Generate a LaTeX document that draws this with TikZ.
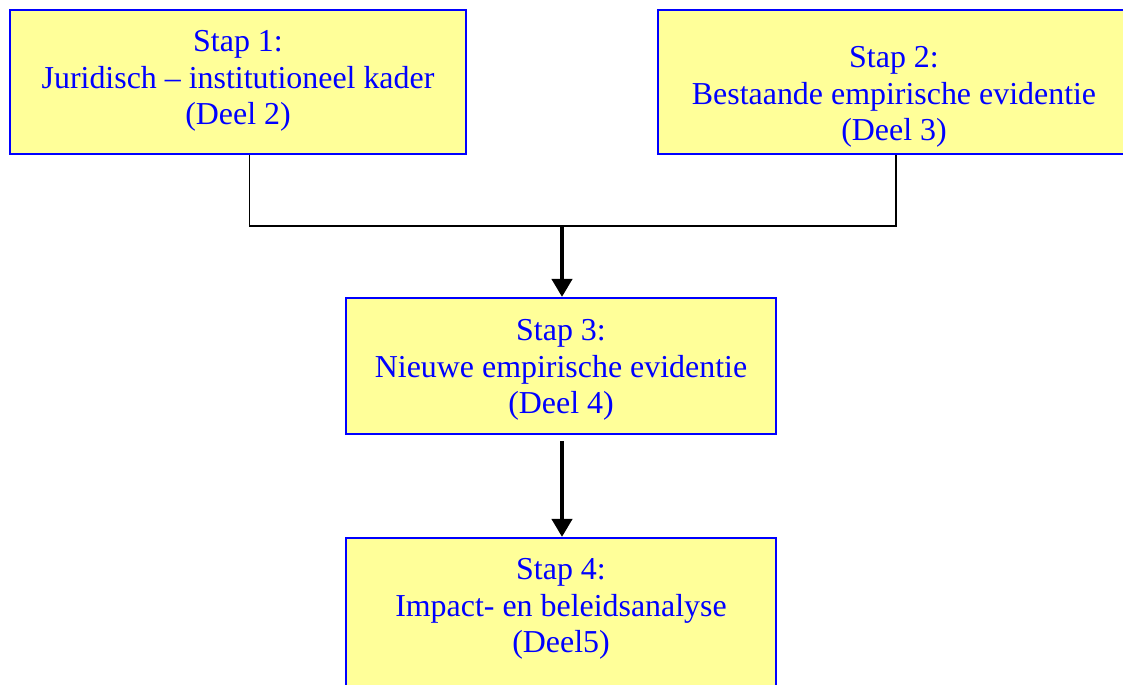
\documentclass[tikz,border=0pt]{standalone}
\usepackage{fontspec}
\setmainfont{Liberation Serif}
\usetikzlibrary{arrows.meta}
\definecolor{stapgeel}{RGB}{255,255,153}
\definecolor{stapblauw}{RGB}{0,0,255}

\begin{document}
\begin{tikzpicture}[x=0.025cm,y=-0.025cm,
  stapbox/.style={draw=stapblauw,fill=stapgeel,line width=1.5pt,inner sep=0pt},
  staptext/.style={text=stapblauw,align=center,font=\fontsize{22.7}{26}\selectfont},
  lijn/.style={draw=black,line width=0.9pt},
  pijl/.style={draw=black,line width=2.9pt,-{Triangle[length=0.45cm,width=0.5cm]}}]
\useasboundingbox (0,0) rectangle (1123,684);
\begin{scope}
\clip (0,0) rectangle (1123,684);
\node[stapbox,minimum width=11.4cm,minimum height=3.6cm] (s1) at (238,82) {};
\node[stapbox,minimum width=11.8cm,minimum height=3.6cm] (s2) at (894,82) {};
\node[stapbox,minimum width=10.75cm,minimum height=3.4cm] (s3) at (561,366) {};
\node[stapbox,minimum width=10.75cm,minimum height=4.05cm] (s4) at (561,619) {};
\end{scope}
\node[staptext] (t1) at (238,81) {Stap 1:\\Juridisch -- institutioneel kader\\(Deel 2)};
\node[staptext] (t2) at (894,97) {Stap 2:\\Bestaande empirische evidentie\\(Deel 3)};
\node[staptext] (t3) at (561,370) {Stap 3:\\Nieuwe empirische evidentie\\(Deel 4)};
\node[staptext] (t4) at (561,609) {Stap 4:\\Impact- en beleidsanalyse\\(Deel5)};
\coordinate (j) at (562,226);
\draw[lijn] ([xshift=0.28cm]s1.south) |- (j) -| ([xshift=0.05cm]s2.south);
\draw[pijl] (j) -- (j |- s3.north);
\draw[pijl,shorten <=0.15cm] (s3.south -| j) -- (j |- s4.north);
\end{tikzpicture}
\end{document}
